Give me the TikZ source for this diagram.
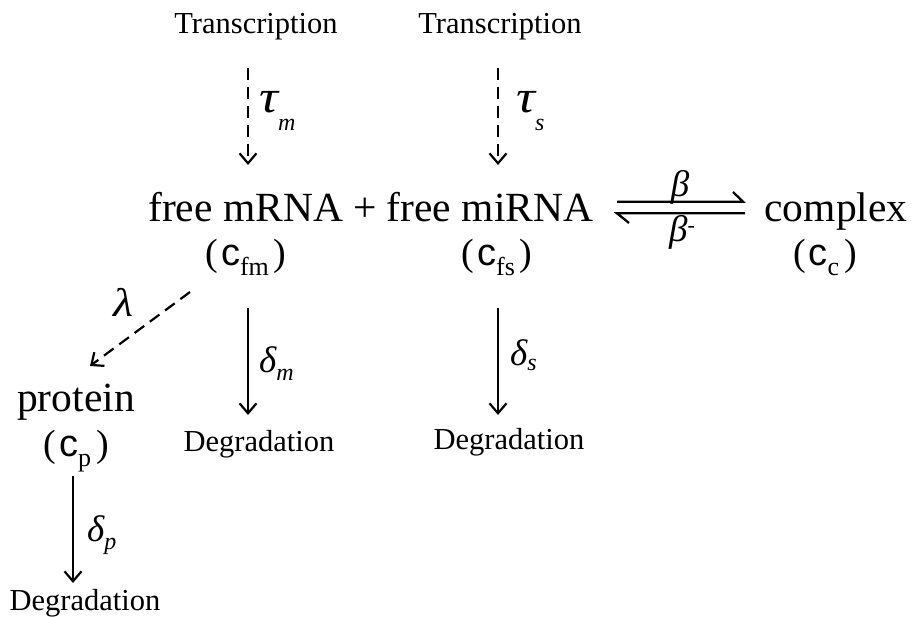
\documentclass[tikz,border=0pt]{standalone}
\usepackage{fontspec}
\setmainfont{Liberation Serif}
\newfontfamily\arialf{Liberation Sans}
\usetikzlibrary{arrows.meta}
\newcommand\grk[4]{{\fontsize{#1}{#1}\selectfont\itshape #2}\raisebox{#4}{\fontsize{24}{24}\selectfont\itshape #3}}
\newcommand\concn[1]{(\hspace{3pt}{\fontsize{38}{38}\arialf c}\raisebox{-10pt}{\fontsize{26}{26}\selectfont #1}\hspace{5pt})}
\tikzset{
  lbl/.style={inner sep=0pt, anchor=base},
  big/.style={lbl, font=\fontsize{41.5}{48}\selectfont},
  small/.style={lbl, font=\fontsize{30.5}{36}\selectfont},
  conc/.style={lbl, font=\fontsize{38}{44}\selectfont},
  glbl/.style={inner sep=0pt, anchor=base west},
  arr/.style={line width=2.2pt, -{Straight Barb[length=10pt,width=17pt,line width=2.2pt]}},
  darr/.style={arr, dash pattern=on 12pt off 7pt},
  eqline/.style={line width=2.3pt, line join=miter},
}
\begin{document}
\begin{tikzpicture}[x=1pt,y=-1pt]
\useasboundingbox (0,0) rectangle (911,617);
% texts
\node[small] (tr1) at (256,34) {Transcription};
\node[small] (tr2) at (500,34) {Transcription};
\node[big] (fm) at (245.6,222) {free mRNA};
\node[big] (plus) at (365,222) {+};
\node[big] (fs) at (490,222) {free miRNA};
\node[big] (cx) at (836,222) {complex};
\node[conc] (cfm) at (246,266) {\concn{fm}};
\node[conc] (cfs) at (497,266) {\concn{fs}};
\node[conc] (cc) at (825,266) {\concn{c}};
\node[big] (pr) at (76,412) {protein};
\node[conc] (cp) at (76,457) {\concn{p}};
\node[small] (dg1) at (259,452) {Degradation};
\node[small] (dg2) at (509,450) {Degradation};
\node[small] (dg3) at (85,610) {Degradation};
% greek labels
\node[glbl] (taum) at (259,113) {\grk{46}{\scalebox{1.15}[1]{τ}}{m}{-18pt}};
\node[glbl] (taus) at (516,113) {\grk{46}{\scalebox{1.15}[1]{τ}}{s}{-18pt}};
\node[glbl] (delm) at (259,373) {\grk{37}{δ}{m}{-8pt}};
\node[glbl] (dels) at (510,366) {\grk{37}{δ}{s}{-5pt}};
\node[glbl] (delp) at (87,542) {\grk{37}{δ}{p}{-8pt}};
\node[glbl] (lam) at (113,317) {\fontsize{40}{40}\selectfont\itshape\scalebox{1.15}[1]{λ}};
\node[lbl] (bf) at (680,197) {\fontsize{37}{37}\selectfont\itshape β};
\node[lbl] (bb) at (682,242) {\fontsize{37}{37}\selectfont\itshape β\raisebox{9pt}{\fontsize{22}{22}\selectfont\upshape -}};
% connector end points
\coordinate (t1a) at (248,68);  \coordinate (t1b) at (248,165);
\coordinate (t2a) at (498,68);  \coordinate (t2b) at (498,165);
\coordinate (dma) at (248,308); \coordinate (dmb) at (248,415);
\coordinate (dsa) at (498,308); \coordinate (dsb) at (498,415);
\coordinate (dpa) at (73,476);  \coordinate (dpb) at (73,583);
\coordinate (la)  at (190,292); \coordinate (lb)  at (90,366);
\coordinate (fa) at (617,201.7); \coordinate (fb) at (743,201.7); \coordinate (fc) at (733,192);
\coordinate (ba) at (745,213.3); \coordinate (bb2) at (617,213.3); \coordinate (bc) at (629,223);
% connectors
\draw[darr] (t1a) -- (t1b);
\draw[darr] (t2a) -- (t2b);
\draw[arr] (dma) -- (dmb);
\draw[arr] (dsa) -- (dsb);
\draw[arr] (dpa) -- (dpb);
\draw[darr] (la) -- (lb);
\draw[eqline] (fa) -- (fb) -- (fc);
\draw[eqline] (ba) -- (bb2) -- (bc);
\end{tikzpicture}
\end{document}
